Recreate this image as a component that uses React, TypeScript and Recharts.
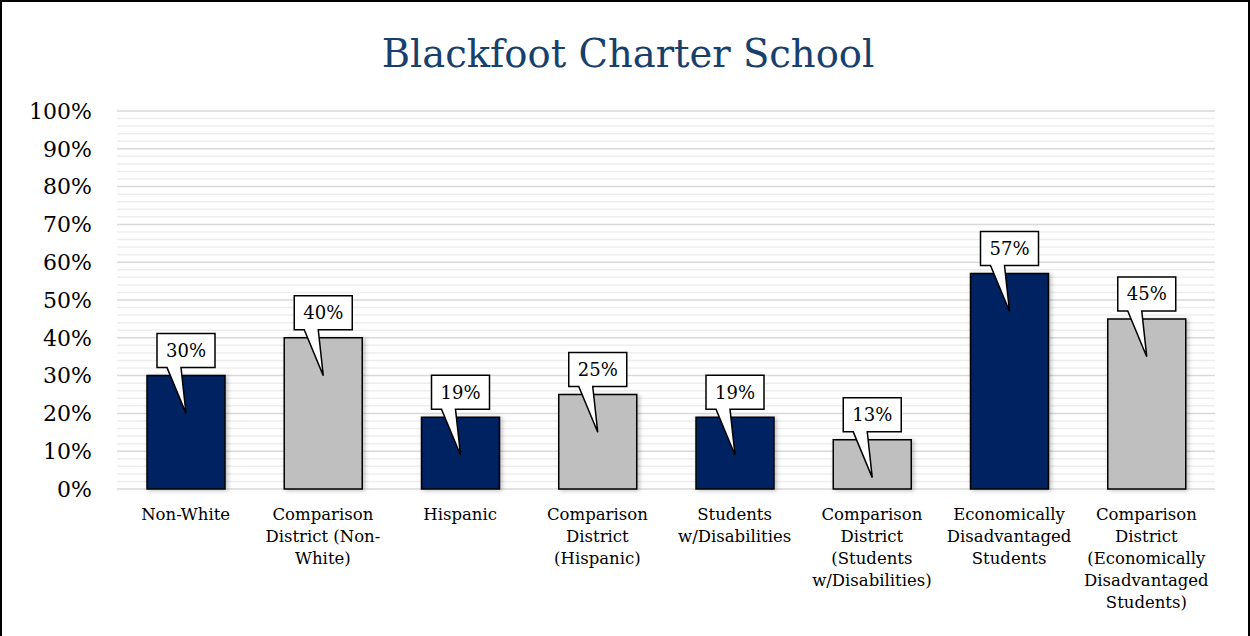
import { BarChart, Bar, XAxis, YAxis, CartesianGrid, LabelList, Cell } from 'recharts'

const NAVY = '#002060'
const GRAY = '#BFBFBF'
const FONT = '"DejaVu Serif", serif'

const categories = [
  'Non-White',
  'Comparison\nDistrict (Non-\nWhite)',
  'Hispanic',
  'Comparison\nDistrict\n(Hispanic)',
  'Students\nw/Disabilities',
  'Comparison\nDistrict\n(Students\nw/Disabilities)',
  'Economically\nDisadvantaged\nStudents',
  'Comparison\nDistrict\n(Economically\nDisadvantaged\nStudents)',
]
const values = [30, 40, 19, 25, 19, 13, 57, 45]
const barColors = [NAVY, GRAY, NAVY, GRAY, NAVY, GRAY, NAVY, GRAY]
const yTicks = [0, 10, 20, 30, 40, 50, 60, 70, 80, 90, 100]
const minorTicks = [2, 4, 6, 8, 12, 14, 16, 18, 22, 24, 26, 28, 32, 34, 36, 38, 42, 44, 46, 48, 52, 54, 56, 58, 62, 64, 66, 68, 72, 74, 76, 78, 82, 84, 86, 88, 92, 94, 96, 98]

const data = categories.map((name, i) => ({ name, value: values[i] }))

// minor gridlines every 2%, placed with the axis scale when available
function minorLines({ yAxis, offset }: any) {
  if (yAxis && typeof yAxis.scale === 'function') return minorTicks.map((t) => yAxis.scale(t))
  if (yAxis && yAxis.scale && typeof yAxis.scale.map === 'function') return minorTicks.map((t) => yAxis.scale.map(t))
  return minorTicks.map((t) => offset.top + offset.height * (1 - t / 100))
}

function CategoryTick({ x, y, payload }: any) {
  const lines = String(payload.value).split('\n')
  return (
    <text x={x} y={y + 23} textAnchor="middle" fontFamily={FONT} fontSize={16.5} fill="#000">
      {lines.map((line, i) => (
        <tspan key={i} x={x} dy={i === 0 ? 0 : 22}>
          {line}
        </tspan>
      ))}
    </text>
  )
}

// callout box above the bar with a pointer that reaches 10 points down into the bar
function Callout({ x, y, width, height, value }: any) {
  const cx = x + width / 2
  const pxPerUnit = height / value
  const tipY = y + 10 * pxPerUnit
  const boxW = 58
  const boxTop = y - 42
  const boxBottom = y - 8
  const left = cx - boxW / 2
  const right = cx + boxW / 2
  const path = [
    `M${left},${boxTop}`,
    `L${right},${boxTop}`,
    `L${right},${boxBottom}`,
    `L${cx - 5},${boxBottom}`,
    `L${cx},${tipY}`,
    `L${cx - 19},${boxBottom}`,
    `L${left},${boxBottom}`,
    'Z',
  ].join(' ')
  return (
    <g>
      <path d={path} fill="#fff" stroke="#000" strokeWidth={1.5} strokeLinejoin="miter" />
      <text
        x={cx}
        y={(boxTop + boxBottom) / 2 + 6.5}
        textAnchor="middle"
        fontFamily={FONT}
        fontSize={18}
        fill="#000"
      >
        {`${value}%`}
      </text>
    </g>
  )
}

export default function App() {
  return (
    <div
      style={{
        position: 'absolute',
        left: 0,
        top: 0,
        width: 1250,
        height: 636,
        background: '#fff',
        overflow: 'hidden',
      }}
    >
      <div
        style={{
          position: 'absolute',
          left: 0,
          top: 0,
          width: 1250,
          height: 640,
          border: '2px solid #000',
          boxSizing: 'border-box',
        }}
      />
      <div
        style={{
          position: 'absolute',
          left: 0,
          top: 31,
          width: 1256,
          textAlign: 'center',
          fontFamily: FONT,
          fontSize: 38.5,
          color: '#17406D',
        }}
      >
        Blackfoot Charter School
      </div>
      <div style={{ position: 'absolute', left: 0, top: 0 }}>
        <BarChart
          width={1250}
          height={636}
          data={data}
          margin={{ top: 111, right: 35, left: 0, bottom: 0 }}
          barSize={78}
        >
          <defs>
            <filter id="barShadow" x="-20%" y="-20%" width="140%" height="140%">
              <feDropShadow dx={2} dy={1} stdDeviation={2} floodColor="#000" floodOpacity={0.25} />
            </filter>
          </defs>
          <CartesianGrid
            vertical={false}
            stroke="#EEEEEE"
            strokeWidth={1.5}
            horizontalCoordinatesGenerator={minorLines}
          />
          <CartesianGrid vertical={false} stroke="#D9D9D9" strokeWidth={1.5} />
          <XAxis
            dataKey="name"
            height={147}
            interval={0}
            axisLine={false}
            tickLine={false}
            tick={<CategoryTick />}
          />
          <YAxis
            width={117}
            domain={[0, 100]}
            ticks={yTicks}
            interval={0}
            axisLine={false}
            tickLine={false}
            tickSize={0}
            tickMargin={25}
            tickFormatter={(v: number) => `${v}%`}
            tick={{ fontFamily: FONT, fontSize: 22, fill: '#000' }}
          />
          <Bar
            dataKey="value"
            isAnimationActive={false}
            stroke="#000"
            strokeWidth={1.5}
            filter="url(#barShadow)"
          >
            {data.map((d, i) => (
              <Cell key={d.name} fill={barColors[i]} />
            ))}
            <LabelList dataKey="value" content={<Callout />} />
          </Bar>
        </BarChart>
      </div>
    </div>
  )
}
